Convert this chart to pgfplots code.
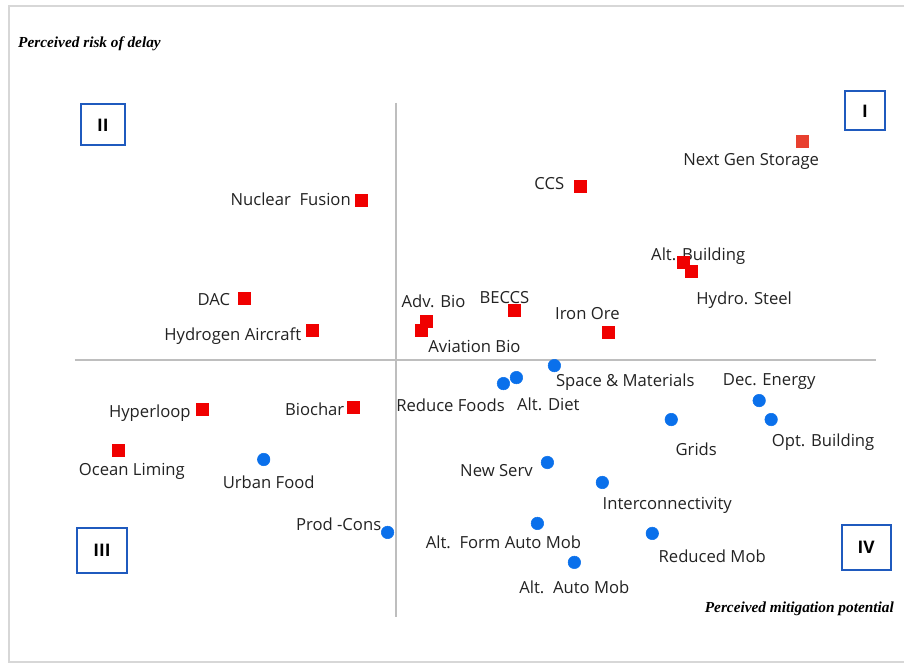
\documentclass[border=0pt]{standalone}
\usepackage{pgfplots}
\pgfplotsset{compat=1.18}
\usepackage{fontspec}
\setmainfont{Open Sans}
\newfontfamily\tnr{Liberation Serif}
\definecolor{mred}{RGB}{240,0,0}
\definecolor{mred2}{RGB}{232,64,47}
\definecolor{mblue}{RGB}{10,112,235}
\definecolor{qbox}{RGB}{31,90,190}
\definecolor{axgray}{RGB}{190,190,190}
\definecolor{frgray}{RGB}{215,215,215}
\definecolor{txt}{RGB}{35,35,35}
\begin{document}
\begin{tikzpicture}[x=1pt,y=1pt]
\begin{axis}[
  scale only axis, width=678.75pt, height=498.75pt,
  xmin=0, xmax=905, ymin=0, ymax=665,
  hide axis, clip=false,
  y dir=reverse,
]
% background and frame
\fill[white] (axis cs:0,0) rectangle (axis cs:905,665);
\draw[frgray, line width=1.5pt] (axis cs:905,6) -- (axis cs:9.5,6) -- (axis cs:9.5,663) -- (axis cs:905,663);
% quadrant lines
\draw[axgray, line width=1.5pt] (axis cs:396,103) -- (axis cs:396,618);
\draw[axgray, line width=1.5pt] (axis cs:75,360) -- (axis cs:877,360);
% quadrant boxes
\draw[qbox, line width=1.4pt, fill=white] (axis cs:81,104) rectangle (axis cs:125,145);
\node[font=\fontsize{13}{15}\selectfont\bfseries] at (axis cs:103,125) {II};
\draw[qbox, line width=1.4pt, fill=white] (axis cs:846,91) rectangle (axis cs:886,130);
\node[font=\fontsize{13}{15}\selectfont\bfseries] at (axis cs:866,111) {I};
\draw[qbox, line width=1.4pt, fill=white] (axis cs:77,529) rectangle (axis cs:127,574);
\node[font=\fontsize{13}{15}\selectfont\bfseries] at (axis cs:102,551) {III};
\draw[qbox, line width=1.4pt, fill=white] (axis cs:843,526) rectangle (axis cs:892,571);
\node[font=\fontsize{13}{15}\selectfont\bfseries] at (axis cs:867,548) {IV};
% axis titles
\node[anchor=west, inner sep=0pt, font=\tnr\fontsize{11.5}{13}\selectfont\bfseries\itshape] at (axis cs:18,44) {Perceived risk of delay};
\node[anchor=east, inner sep=0pt, font=\tnr\fontsize{11.5}{13}\selectfont\bfseries\itshape] at (axis cs:895,609) {Perceived mitigation potential};
% red squares
\addplot[only marks, mark=square*, mark size=4.5pt, mark options={draw=mred, fill=mred}] coordinates {
(581,186) (362,200) (684,263) (692,272) (245,299) (515,311) (427,322) (422,331) (609,333) (313,331) (202,410) (354,408) (118,451)
};
\addplot[only marks, mark=square*, mark size=4.5pt, mark options={draw=mred2, fill=mred2}] coordinates {(803,141)};
% blue circles
\addplot[only marks, mark=*, mark size=4.7pt, mark options={draw=mblue, fill=mblue}] coordinates {
(555,366) (517,378) (504,384) (760,401) (772,420) (672,420) (548,463) (264,460) (603,483) (538,524) (388,533) (653,534) (575,563)
};
% labels
\begin{scope}[every node/.style={font=\fontsize{12.5}{14}\selectfont, text=txt, inner sep=0pt, yshift=-1.5pt}]
\node at (axis cs:752,160) {Next Gen Storage};
\node at (axis cs:550,182) {CCS};
\node at (axis cs:291,197) {Nuclear\ \ Fusion};
\node at (axis cs:699,254) {Alt. Building};
\node at (axis cs:745,298) {Hydro. Steel};
\node at (axis cs:214,298) {DAC};
\node at (axis cs:505,296) {BECCS};
\node at (axis cs:434,300) {Adv. Bio};
\node at (axis cs:588,312) {Iron Ore};
\node at (axis cs:233,334) {Hydrogen Aircraft};
\node at (axis cs:475,345) {Aviation Bio};
\node at (axis cs:626,381) {Space \& Materials};
\node at (axis cs:770,380) {Dec. Energy};
\node at (axis cs:451,404) {Reduce Foods};
\node at (axis cs:549,403) {Alt. Diet};
\node at (axis cs:150,412) {Hyperloop};
\node at (axis cs:315,408) {Biochar};
\node at (axis cs:697,448) {Grids};
\node at (axis cs:824,441) {Opt. Building};
\node at (axis cs:132,470) {Ocean Liming};
\node at (axis cs:497,469) {New Serv};
\node at (axis cs:269,481) {Urban Food};
\node at (axis cs:668,504) {Interconnectivity};
\node at (axis cs:339,523) {Prod -Cons};
\node at (axis cs:504,541) {Alt.\ \ Form Auto Mob};
\node at (axis cs:713,555) {Reduced Mob};
\node at (axis cs:575,586) {Alt.\ \ Auto Mob};
\end{scope}
\end{axis}
\end{tikzpicture}
\end{document}
